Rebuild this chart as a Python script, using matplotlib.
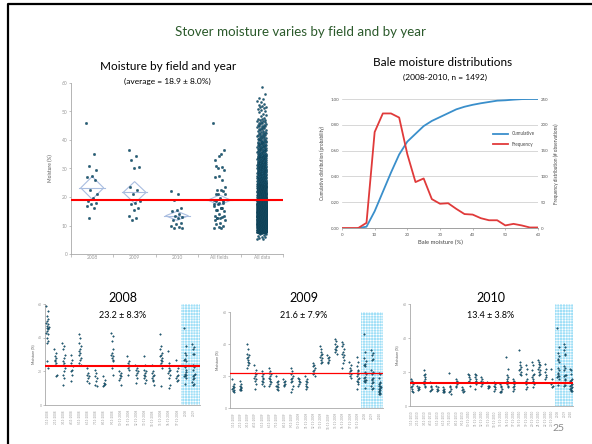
import numpy as np
import matplotlib.pyplot as plt
from matplotlib.lines import Line2D
from matplotlib.patches import Polygon

plt.rcParams['font.family'] = ['Lato', 'DejaVu Sans']
plt.rcParams['hatch.linewidth'] = 0.4

# ---- data: moisture by field and year (top left) ----
cats = ["2008", "2009", "2010", "All fields", "All data"]
f2008 = [46, 35, 31, 29.5, 27.5, 27, 26, 22.5, 21, 19.5, 18.7, 17.8, 17.5, 17, 16, 12.5]
f2009 = [36.5, 34.5, 33, 30.5, 30.2, 23.5, 22.5, 21, 18.5, 18, 17.5, 16, 15.5, 13.5, 12.5, 12]
f2010 = [22, 21, 19, 16, 15.5, 15, 14, 13.5, 13, 12.5, 12, 11, 10.5, 10, 9.5, 9, 9]
cat_means = [23.2, 21.6, 13.4, 18.9, 18.9]
cat_half = [4.0, 3.8, 1.6, 1.8, 0.4]
overall_mean = 18.9

# ---- data: bale moisture distributions (top right) ----
freq_x = [0, 2.5, 5, 7.5, 10, 12.5, 15, 17.5, 20, 22.5, 25, 27.5, 30,
          32.5, 35, 37.5, 40, 42.5, 45, 47.5, 50, 52.5, 55, 57.5, 60]
freq = [0, 0, 0, 10, 186, 222, 222, 214, 143, 89, 96, 56, 47,
        48, 37, 27, 26, 19, 15, 15, 5, 8, 5, 1, 1]
cum_x = freq_x[2:]
cumulative = [0, 0.01, 0.13, 0.28, 0.43, 0.57, 0.67, 0.73, 0.79, 0.83, 0.86,
              0.89, 0.92, 0.94, 0.955, 0.967, 0.977, 0.987, 0.99, 0.995, 0.999, 1.0, 1.0]

# ---- data: per-field moisture, by year (bottom) ----
fields2008 = [
    [59, 56, 53, 51, 50, 49, 48, 47, 46.5, 46, 45.5, 45, 44, 43, 42, 40, 38, 37, 26, 22],
    [33, 31, 29, 28, 27, 26, 25, 24, 18, 17],
    [37, 35, 33, 30, 28, 26, 25, 24, 22, 20, 18, 16, 12],
    [30, 27, 25, 23, 21, 20, 18, 14],
    [42, 40, 37, 35, 33, 32, 31, 30, 28, 27, 25, 24],
    [22, 19, 18, 17, 16, 14, 13],
    [21, 19, 17, 16, 14, 12, 11],
    [17, 15, 13, 12.5, 12, 11],
    [43, 41, 38, 33, 31, 30, 29, 28, 27, 26, 22, 18],
    [20, 19, 18, 17, 16, 15, 12],
    [29, 26, 25, 24, 23, 22, 21, 18],
    [24, 22, 21, 20, 19, 18, 16, 13],
    [29, 24, 21, 20, 19, 18, 17, 16, 15, 13],
    [24, 20, 19, 18, 17, 16, 15, 14, 12],
    [42, 35, 33, 31, 30, 29, 28, 27, 26, 25, 24, 22, 11],
    [32, 25, 22, 21, 20, 19, 18, 16, 12, 10],
    [27, 22, 20, 18, 17, 16, 15, 14],
]
fields2009 = [
    [18, 15, 14, 13, 12.5, 12, 11, 10.5, 10],
    [17, 15, 14, 13, 12.5, 12, 11.5, 11],
    [40, 37, 34, 33, 32, 31, 30, 29, 28, 27, 25],
    [27, 24, 22, 21, 20, 19, 18, 17, 15, 12],
    [23, 21, 20, 19, 18, 17, 16, 15, 14],
    [25, 23, 22, 21, 20, 19, 18, 17, 16, 15, 14],
    [20, 17, 16, 15, 14, 13.5, 13, 12, 11],
    [18, 17, 16, 15, 14.5, 14],
    [25, 23, 21, 20, 19, 18, 17, 16, 14, 12, 10],
    [19, 18, 17, 16, 15, 14],
    [20, 18, 17, 16, 15, 14, 13, 12],
    [28, 27, 26, 25, 24, 23, 22, 21, 20],
    [39, 37, 35, 34, 33, 32, 31, 30, 29, 28],
    [33, 32, 31, 30, 29, 28],
    [43, 42, 40, 39, 38, 37, 36, 35, 34],
    [41, 40, 39, 37, 35, 34, 33, 32, 30, 28, 25],
    [29, 27, 25, 24, 23, 22, 21, 20, 19],
    [32, 29, 26, 24, 23, 22, 21, 20, 19, 18, 17, 16, 15, 12],
]
fields2010 = [
    [16, 15, 14, 13, 12, 11, 10, 9, 8],
    [12, 11, 10.5, 10, 9.5],
    [21, 19, 18, 17, 16, 15, 14, 13, 12, 11],
    [14, 12, 11, 10, 9.5, 9],
    [12, 11, 10, 9.5, 9],
    [11, 10, 9.5, 9, 8.5, 8],
    [19.5, 12, 11, 10, 9, 8, 7],
    [16, 15, 14, 13, 12, 11],
    [11, 10, 9.5, 9, 8.5],
    [19, 18, 17, 16, 15, 14, 12],
    [19, 18, 17, 16, 15, 14, 13, 10],
    [17, 16, 15, 14, 13, 12],
    [14, 12, 11.5, 11, 10.5],
    [14, 13, 12, 11, 10, 9],
    [13, 12, 11, 10, 9, 8.5, 8],
    [29, 22, 18, 17, 16, 15, 14, 13, 12, 11],
    [16, 15, 14, 13, 12, 11, 10, 9],
    [33, 26, 24, 23, 22, 21, 20, 19, 18],
    [24, 22, 19, 16, 15, 13, 11, 10],
    [26, 24, 21, 19, 18, 17, 16, 15, 13, 11],
    [27, 26, 25, 24, 23, 22, 21, 20, 19, 18],
    [25, 22, 20, 18, 17, 16],
    [22, 16, 13, 12, 11],
]
year_titles = ["2008", "2009", "2010"]
year_stats = ["23.2 \u00b1 8.3%", "21.6 \u00b1 7.9%", "13.4 \u00b1 3.8%"]
year_means = [23.2, 21.6, 13.4]
labels2008 = [f"{i + 1}-11-2008" for i in range(len(fields2008))] + ["2008", "2009"]
labels2009 = [f"{i + 1}-11-2009" for i in range(len(fields2009))] + ["2008", "2009", "2010"]
labels2010 = [f"{i + 1}-11-2010" for i in range(len(fields2010))] + ["2008", "2009", "2010"]

PT = '#1d5f7c'
EDGE = '#0c3547'
GRAY = '#9a9a9a'
W, H = 592, 444


def box(l, t, r, b):
    return [l / W, 1 - b / H, (r - l) / W, (b - t) / H]


def spread(n, w):
    return np.array([((k * 0.618034) % 1 - 0.5) * w for k in range(n)])


def strip(ax, pos, vals, w, s, zorder=3):
    vals = np.asarray(vals, dtype=float)
    ax.scatter(pos + spread(len(vals), w), vals, s=s, c=PT, edgecolors=EDGE,
               linewidths=0.25, zorder=zorder)


def gray_axes(ax, fs):
    for sp in ['top', 'right']:
        ax.spines[sp].set_visible(False)
    for sp in ['left', 'bottom']:
        ax.spines[sp].set_color('#a8a8a8')
        ax.spines[sp].set_linewidth(0.6)
    ax.tick_params(colors='#a8a8a8', labelcolor=GRAY, labelsize=fs,
                   length=1.5, width=0.5, pad=1)


fig = plt.figure(figsize=(5.92, 4.44), dpi=100)

# slide frame
fig.add_artist(Line2D([8 / W, 8 / W, 1], [0, 1 - 4 / H, 1 - 4 / H],
                      color='black', lw=1.6))
fig.text(0.508, 1 - 32 / H, "Stover moisture varies by field and by year",
         ha='center', va='center', fontsize=9.6, color='#2b5a2b')

# ---- top left ----
ax1 = fig.add_axes(box(71, 83, 283, 254))
gray_axes(ax1, 3.5)
for i, vals in enumerate([f2008, f2009, f2010, f2008 + f2009 + f2010]):
    strip(ax1, i, vals, 0.28, 3)

# all data column expanded from the frequency bins
all_vals = []
for x, n in zip(freq_x, freq):
    all_vals += [x - 2.5 + (j + 0.5) * 2.5 / n for j in range(n)]
strip(ax1, 4, all_vals, 0.22, 2.2)

for i, (m, h) in enumerate(zip(cat_means, cat_half)):
    ax1.add_patch(Polygon([[i - 0.27, m], [i, m + h], [i + 0.27, m], [i, m - h]],
                          closed=True, fill=False, ec='#a9bde0', lw=0.8, zorder=2))
    ax1.plot([i - 0.3, i + 0.3], [m, m], color='#a9bde0', lw=0.8, zorder=2)
ax1.axhline(overall_mean, color='#ff0000', lw=1.5, zorder=5)
ax1.set_xlim(-0.5, 4.5)
ax1.set_ylim(0, 60)
ax1.set_yticks(range(0, 61, 10))
ax1.set_xticks(range(5))
ax1.set_xticklabels(cats)
ax1.set_xticks(np.arange(-0.5, 5, 1), minor=True)
ax1.tick_params(axis='x', which='major', length=0)
ax1.tick_params(axis='x', which='minor', length=2, color='#a8a8a8', width=0.5)
ax1.set_ylabel("Moisture (%)", fontsize=3.5, color='#555555', labelpad=6)
fig.text(168 / W, 1 - 66 / H, "Moisture by field and year",
         ha='center', va='center', fontsize=8.5)
fig.text(167 / W, 1 - 81 / H, "(average = 18.9 \u00b1 8.0%)",
         ha='center', va='center', fontsize=6)

# ---- top right ----
ax2 = fig.add_axes(box(342, 99, 538, 228))
ax2.plot(cum_x, cumulative, color='#3a8fcb', lw=1.3, label='Cumulative', zorder=3)
ax2.set_xlim(0, 60)
ax2.set_ylim(0, 1)
ax2.set_yticks(np.arange(0, 1.01, 0.2))
ax2.set_yticklabels([f"{v:.2f}" for v in np.arange(0, 1.01, 0.2)])
ax2.set_xticks(range(0, 61, 10))
ax2.grid(axis='y', color='#c8c8c8', lw=0.5)
ax2.set_axisbelow(True)
ax3 = ax2.twinx()
ax3.plot(freq_x, freq, color='#e03a3a', lw=1.3, label='Frequency', zorder=3)
ax3.set_ylim(0, 250)
ax3.set_yticks(range(0, 251, 50))
for a in (ax2, ax3):
    for sp in ['top', 'left', 'right']:
        a.spines[sp].set_visible(False)
    a.spines['bottom'].set_color('#a0a0a0')
    a.spines['bottom'].set_linewidth(0.6)
    a.tick_params(colors='#a0a0a0', labelcolor='#555555', labelsize=3.2,
                  length=0, pad=2)
ax2.tick_params(axis='x', length=1.5, width=0.5)
ax2.set_xlabel("Bale moisture (%)", fontsize=4.2, color='#444444', labelpad=2)
ax2.set_ylabel("Cumulative distribution (probability)", fontsize=3.3,
               color='#444444', labelpad=4)
ax3.set_ylabel("Frequency distribution (# observations)", fontsize=3.3,
               color='#444444', labelpad=4)
h2, l2 = ax2.get_legend_handles_labels()
h3, l3 = ax3.get_legend_handles_labels()
fig.legend(h2 + h3, l2 + l3, loc='upper left', bbox_to_anchor=(489 / W, 1 - 127 / H),
           frameon=False, fontsize=3.3, handlelength=3.2, labelspacing=1.2,
           labelcolor='#444444')
fig.text(443 / W, 1 - 63 / H, "Bale moisture distributions",
         ha='center', va='center', fontsize=8.5)
fig.text(445 / W, 1 - 77 / H, "(2008-2010, n = 1492)",
         ha='center', va='center', fontsize=6)

# ---- bottom: per-field strips ----
panels = [
    (box(45, 304, 200, 405), fields2008, [f2008, f2009], labels2008, (-0.3, 18.8), 16.5, 1.5, 123, 33),
    (box(230, 312, 383, 408), fields2009, [f2008, f2009, f2010], labels2009, (-0.46, 20.46), 17.5, 0.9, 304, 217),
    (box(410, 304, 573, 406), fields2010, [f2008, f2009, f2010], labels2010, (-0.3, 25.3), 22.5, 1.5, 491, 397),
]
for k, (rect, fields, summary, labels, xlim, hstart, rlw, tx, ylx) in enumerate(panels):
    ax = fig.add_axes(rect)
    gray_axes(ax, 2.5)
    ax.axvspan(hstart, xlim[1], facecolor='#9fdff7', edgecolor='white',
               hatch='++++++', lw=0, zorder=0)
    cols = fields + summary
    for i, vals in enumerate(cols):
        strip(ax, i, vals, 0.3, 1.2)
    ax.axhline(year_means[k], color='#ff0000', lw=rlw, zorder=5)
    ax.set_xlim(*xlim)
    ax.set_ylim(0, 60)
    ax.set_yticks([0, 20, 40, 60])
    ax.set_xticks(range(len(cols)))
    ax.set_xticklabels(labels, rotation=90, fontsize=2.2)
    ax.tick_params(axis='x', length=0, pad=3)
    mid_y = rect[1] + rect[3] / 2
    fig.text(ylx / W, mid_y, "Moisture (%)", rotation=90, ha='center',
             va='center', fontsize=2.5, color='#555555')
    fig.text(tx / W, 1 - 298 / H, year_titles[k], ha='center', va='center',
             fontsize=9)
    fig.text(tx / W, 1 - 316 / H, year_stats[k], ha='center', va='center',
             fontsize=6.5)

fig.text(558 / W, 1 - 428 / H, "25", ha='center', va='center',
         fontsize=7.5, color='#8c8c8c')

fig.savefig("out.png", dpi=100)
